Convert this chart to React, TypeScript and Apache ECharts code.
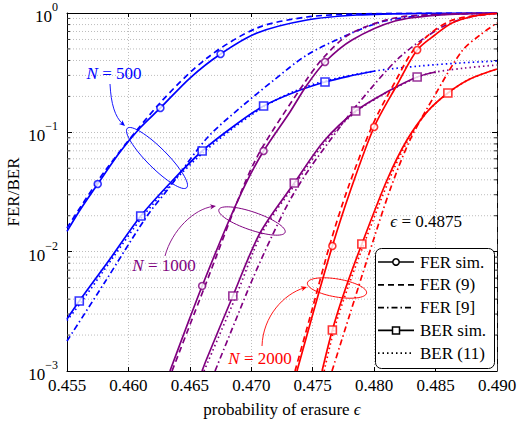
import React, { useEffect, useRef } from 'react';
import * as echarts from 'echarts';

// ---------- axes ----------
const xMin = 0.455;
const xMax = 0.49;
const xStep = 0.005;
const yMin = 0.001;
const yMax = 1;
const minorYValues = [
  0.002, 0.003, 0.004, 0.005, 0.006, 0.007, 0.008, 0.009,
  0.02, 0.03, 0.04, 0.05, 0.06, 0.07, 0.08, 0.09,
  0.2, 0.3, 0.4, 0.5, 0.6, 0.7, 0.8, 0.9,
];
const epsilonMark = 0.4875;

// ---------- N = 500 (blue) ----------
const n500FerSim: number[][] = [
  [0.455, 0.0148], [0.45606, 0.02234], [0.4575, 0.0369], [0.45931, 0.06843], [0.46094, 0.1087],
  [0.4626, 0.16], [0.46501, 0.2852], [0.4675, 0.4533], [0.47047, 0.6801], [0.47453, 0.8737],
  [0.4786, 0.9621], [0.48373, 0.9942], [0.49, 0.999],
];
const n500FerSimMarks = [2, 5, 7];
const n500FerEq9: number[][] = [
  [0.455, 0.01579], [0.45809, 0.04743], [0.46257, 0.1761], [0.4664, 0.4197], [0.47047, 0.7485],
  [0.47453, 0.9257], [0.4786, 0.9809], [0.48373, 0.996], [0.49, 0.9995],
];
const n500FerRef9: number[][] = [
  [0.455, 0.001783], [0.45809, 0.005567], [0.46151, 0.0199], [0.4633, 0.03416], [0.4664, 0.08965],
  [0.46908, 0.16], [0.47185, 0.2746], [0.47453, 0.4447], [0.4782, 0.6801], [0.48088, 0.857],
  [0.48455, 0.9621], [0.49, 0.994],
];
const n500BerSim: number[][] = [
  [0.455, 0.002727], [0.456, 0.003858], [0.4585, 0.008679], [0.461, 0.0199], [0.46355, 0.03912],
  [0.466, 0.06976], [0.46859, 0.113], [0.471, 0.1662], [0.47356, 0.2178], [0.476, 0.264],
  [0.47803, 0.2965], [0.48007, 0.3266],
];
const n500BerSimMarks = [1, 3, 5, 7, 9];
const n500BerEq11: number[][] = [
  [0.455, 0.00265], [0.45622, 0.003858], [0.45866, 0.008679], [0.46119, 0.0199], [0.46371, 0.03912],
  [0.46623, 0.06976], [0.46876, 0.113], [0.47112, 0.1662], [0.47356, 0.222], [0.476, 0.2693],
  [0.48007, 0.3266], [0.48373, 0.3597], [0.48699, 0.3811], [0.49, 0.3961],
];

// ---------- N = 1000 (purple) ----------
const n1000FerSim: number[][] = [
  [0.46338, 0.001], [0.46469, 0.002293], [0.466, 0.005155], [0.4681, 0.01739], [0.46949, 0.03619],
  [0.471, 0.06976], [0.47315, 0.1481], [0.47453, 0.2492], [0.476, 0.3885], [0.4782, 0.594],
  [0.4817, 0.857], [0.48536, 0.9621], [0.49, 0.997],
];
const n1000FerSimMarks = [2, 5, 8];
const n1000FerEq9: number[][] = [
  [0.46355, 0.001], [0.46623, 0.005155], [0.46941, 0.03619], [0.47087, 0.07389], [0.47437, 0.264],
  [0.47592, 0.4279], [0.47803, 0.6669], [0.4817, 0.9081], [0.48617, 0.9809], [0.49, 0.999],
];
const n1000FerRef9: number[][] = [
  [0.46705, 0.001], [0.46867, 0.002574], [0.47014, 0.006015], [0.47169, 0.01353], [0.47315, 0.02709],
  [0.47478, 0.05025], [0.47722, 0.1108], [0.4786, 0.1694], [0.4821, 0.4279], [0.48552, 0.7632],
  [0.4878, 0.9257], [0.49, 0.99],
];
const n1000BerSim: number[][] = [
  [0.46599, 0.001], [0.4664, 0.001285], [0.4685, 0.00425], [0.47071, 0.01434], [0.4735, 0.03761],
  [0.47592, 0.0846], [0.4785, 0.151], [0.48088, 0.2136], [0.4835, 0.2909], [0.48503, 0.3203],
];
const n1000BerSimMarks = [2, 4, 6, 8];
const n1000BerEq11: number[][] = [
  [0.46615, 0.001], [0.46876, 0.00425], [0.47087, 0.01434], [0.47364, 0.03761], [0.47608, 0.0846],
  [0.4786, 0.151], [0.48096, 0.2136], [0.48357, 0.2909], [0.48503, 0.3203], [0.4874, 0.3459],
  [0.49, 0.3666],
];

// ---------- N = 2000 (red) ----------
const n2000FerSim: number[][] = [
  [0.47372, 0.001], [0.4751, 0.003245], [0.4766, 0.01115], [0.47803, 0.03162], [0.48, 0.1108],
  [0.48186, 0.2492], [0.4835, 0.4898], [0.48495, 0.6543], [0.48634, 0.8245], [0.48821, 0.9437],
  [0.49, 0.9904],
];
const n2000FerSimMarks = [2, 4, 6];
const n2000FerEq9: number[][] = [
  [0.47356, 0.001], [0.47494, 0.003245], [0.47641, 0.0116], [0.47787, 0.03416], [0.47991, 0.1174],
  [0.4817, 0.264], [0.48341, 0.5188], [0.48617, 0.857], [0.49, 0.994],
];
const n2000FerRef9: number[][] = [
  [0.47657, 0.001], [0.47803, 0.003003], [0.47942, 0.008513], [0.48129, 0.03286], [0.48292, 0.08625],
  [0.48495, 0.2055], [0.48715, 0.4803], [0.48862, 0.6543], [0.49, 0.8245],
];
const n2000BerSim: number[][] = [
  [0.47576, 0.001], [0.4766, 0.002206], [0.47763, 0.004773], [0.479, 0.0116], [0.48105, 0.03985],
  [0.48267, 0.08625], [0.4843, 0.1481], [0.486, 0.2136], [0.4878, 0.2798], [0.49, 0.3395],
];
const n2000BerSimMarks = [1, 3, 7];
const n2000BerEq11: number[][] = [
  [0.47593, 0.001], [0.47673, 0.002206], [0.47779, 0.004773], [0.47917, 0.0116], [0.48121, 0.03985],
  [0.48276, 0.08625], [0.4843, 0.1481], [0.48601, 0.2136], [0.4878, 0.2798], [0.49, 0.3395],
];

const legendLabels = ['FER sim.', 'FER (9)', 'FER [9]', 'BER sim.', 'BER (11)'];

// ---------- styles ----------
const BLUE = '#0000ff';
const PURPLE = '#800080';
const RED = '#ff0000';
const FONT = 'Liberation Serif, DejaVu Serif, serif';
const LW = 1.7;
const DASHED = [6, 4];
const DASHDOT = [6, 3, 1.5, 3];
const DOTTED = [1.5, 3];

function lineSeries(data: number[][], color: string, dash: any) {
  return {
    type: 'line',
    data,
    symbol: 'none',
    smooth: 0.3,
    clip: true,
    silent: true,
    z: 3,
    lineStyle: { color, width: LW, type: dash },
  };
}

function markerSeries(data: number[][], idx: number[], color: string, symbol: string) {
  return {
    type: 'scatter',
    data: idx.map((i) => data[i]),
    symbol,
    symbolSize: symbol === 'rect' ? 8 : 7,
    silent: true,
    z: 4,
    itemStyle: { color: '#fff', borderColor: color, borderWidth: 1.6 },
  };
}

function arrow(x1: number, y1: number, c1x: number, c1y: number, c2x: number, c2y: number, x2: number, y2: number, color: string) {
  const dx = x2 - c2x;
  const dy = y2 - c2y;
  const len = Math.sqrt(dx * dx + dy * dy) || 1;
  const ux = dx / len;
  const uy = dy / len;
  const L = 6;
  const W = 2.6;
  return [
    {
      type: 'bezierCurve',
      shape: { x1, y1, cpx1: c1x, cpy1: c1y, cpx2: c2x, cpy2: c2y, x2: x2 - ux * 3, y2: y2 - uy * 3 },
      style: { stroke: color, lineWidth: 0.9, fill: 'none' },
      z: 20,
    },
    {
      type: 'polygon',
      shape: {
        points: [
          [x2, y2],
          [x2 - ux * L - uy * W, y2 - uy * L + ux * W],
          [x2 - ux * L * 0.7, y2 - uy * L * 0.7],
          [x2 - ux * L + uy * W, y2 - uy * L - ux * W],
        ],
      },
      style: { fill: color, stroke: 'none' },
      z: 20,
    },
  ];
}

function ellipse(cx: number, cy: number, rx: number, ry: number, rot: number, color: string) {
  return {
    type: 'ellipse',
    x: cx,
    y: cy,
    rotation: rot,
    shape: { cx: 0, cy: 0, rx, ry },
    style: { fill: 'none', stroke: color, lineWidth: 0.9 },
    z: 20,
  };
}

function nLabel(x: number, y: number, n: string, color: string) {
  return {
    type: 'text',
    x,
    y,
    z: 20,
    style: {
      text: '{i|N} = ' + n,
      fill: color,
      fontSize: 17,
      fontFamily: FONT,
      align: 'center',
      verticalAlign: 'middle',
      rich: {
        i: { fontStyle: 'italic', fill: color, fontSize: 17, fontFamily: FONT },
      },
    },
  };
}

function buildLegend() {
  const children: any[] = [];
  const left = 375.5;
  const top = 248.5;
  children.push({
    type: 'rect',
    shape: { x: left, y: top, width: 119, height: 120, r: 6 },
    style: { fill: '#fff', stroke: '#000', lineWidth: 1 },
    z: 30,
  });
  const dashes: any[] = [null, DASHED, DASHDOT, null, DOTTED];
  legendLabels.forEach((label, i) => {
    const y = 262 + i * 22.8;
    children.push({
      type: 'line',
      shape: { x1: 378, y1: y, x2: 414, y2: y },
      style: { stroke: '#000', lineWidth: LW, lineDash: dashes[i] || null },
      z: 31,
    });
    if (i === 0) {
      children.push({
        type: 'circle',
        shape: { cx: 396, cy: y, r: 3.2 },
        style: { fill: '#fff', stroke: '#000', lineWidth: 1.5 },
        z: 32,
      });
    }
    if (i === 3) {
      children.push({
        type: 'rect',
        shape: { x: 392.5, y: y - 3.5, width: 7, height: 7 },
        style: { fill: '#fff', stroke: '#000', lineWidth: 1.5 },
        z: 32,
      });
    }
    children.push({
      type: 'text',
      x: 420,
      y,
      z: 32,
      style: { text: label, fill: '#000', fontSize: 17, fontFamily: FONT, align: 'left', verticalAlign: 'middle' },
    });
  });
  return children;
}

export default function App() {
  const ref = useRef<HTMLDivElement>(null);
  useEffect(() => {
    if (!ref.current) return;
    const chart = echarts.init(ref.current, undefined, { renderer: 'svg' });
    const axisLineStyle = { show: true, lineStyle: { color: '#000', width: 1 } };
    const gridLine = { show: true, lineStyle: { color: '#bdbdbd', width: 1, type: [1, 2] } };

    const series: any[] = [
      {
        type: 'custom',
        silent: true,
        z: 1,
        data: minorYValues.map((v) => [xMin, v]),
        encode: { x: 0, y: 1 },
        renderItem: (params: any, api: any) => {
          const v = api.value(1);
          const a = api.coord([xMin, v]);
          const b = api.coord([xMax, v]);
          return {
            type: 'group',
            children: [
              { type: 'line', shape: { x1: a[0], y1: a[1], x2: b[0], y2: b[1] }, style: { stroke: '#bdbdbd', lineWidth: 1, lineDash: [1, 2] } },
              { type: 'line', shape: { x1: a[0], y1: a[1], x2: a[0] + 3, y2: a[1] }, style: { stroke: '#000', lineWidth: 0.8 } },
              { type: 'line', shape: { x1: b[0] - 3, y1: b[1], x2: b[0], y2: b[1] }, style: { stroke: '#000', lineWidth: 0.8 } },
            ],
          };
        },
        markLine: {
          silent: true,
          symbol: ['none', 'none'],
          label: { show: false },
          lineStyle: { color: '#333', width: 1, type: [7, 5] },
          data: [{ xAxis: epsilonMark }],
        },
      },
      // blue
      lineSeries(n500FerRef9, BLUE, DASHDOT),
      lineSeries(n500BerEq11, BLUE, DOTTED),
      lineSeries(n500FerEq9, BLUE, DASHED),
      lineSeries(n500FerSim, BLUE, 'solid'),
      lineSeries(n500BerSim, BLUE, 'solid'),
      // purple
      lineSeries(n1000FerRef9, PURPLE, DASHDOT),
      lineSeries(n1000BerEq11, PURPLE, DOTTED),
      lineSeries(n1000FerEq9, PURPLE, DASHED),
      lineSeries(n1000FerSim, PURPLE, 'solid'),
      lineSeries(n1000BerSim, PURPLE, 'solid'),
      // red
      lineSeries(n2000FerRef9, RED, DASHDOT),
      lineSeries(n2000BerEq11, RED, DOTTED),
      lineSeries(n2000FerEq9, RED, DASHED),
      lineSeries(n2000FerSim, RED, 'solid'),
      lineSeries(n2000BerSim, RED, 'solid'),
      markerSeries(n500FerSim, n500FerSimMarks, BLUE, 'circle'),
      markerSeries(n500BerSim, n500BerSimMarks, BLUE, 'rect'),
      markerSeries(n1000FerSim, n1000FerSimMarks, PURPLE, 'circle'),
      markerSeries(n1000BerSim, n1000BerSimMarks, PURPLE, 'rect'),
      markerSeries(n2000FerSim, n2000FerSimMarks, RED, 'circle'),
      markerSeries(n2000BerSim, n2000BerSimMarks, RED, 'rect'),
    ];

    const graphic: any[] = [
      {
        type: 'text',
        x: 282,
        y: 409,
        style: {
          text: 'probability of erasure {i|ϵ}',
          fill: '#000',
          fontSize: 17,
          fontFamily: FONT,
          align: 'center',
          verticalAlign: 'middle',
          rich: { i: { fontStyle: 'italic', fontSize: 17, fontFamily: FONT, fill: '#000' } },
        },
      },
      {
        type: 'text',
        x: 13,
        y: 192,
        rotation: Math.PI / 2,
        style: { text: 'FER/BER', fill: '#000', fontSize: 17, fontFamily: FONT, align: 'center', verticalAlign: 'middle' },
      },
      {
        type: 'text',
        x: 462,
        y: 221,
        z: 20,
        style: {
          text: '{i|ϵ} = 0.4875',
          fill: '#000',
          fontSize: 17,
          fontFamily: FONT,
          align: 'right',
          verticalAlign: 'middle',
          rich: { i: { fontStyle: 'italic', fontSize: 17, fontFamily: FONT, fill: '#000' } },
        },
      },
      nLabel(114, 73, '500', BLUE),
      nLabel(164, 265, '1000', PURPLE),
      nLabel(260, 358, '2000', RED),
      ...arrow(110, 84, 111, 104, 115, 117, 125, 126, BLUE),
      ...arrow(165, 256, 172, 230, 194, 209, 216, 206, PURPLE),
      ...arrow(262, 346, 263, 316, 284, 294, 307, 287, RED),
      ellipse(157, 158, 42, 10, -Math.PI / 4, BLUE),
      ellipse(252, 221, 35, 9, -0.33, PURPLE),
      ellipse(337, 288, 30, 9, -0.17, RED),
      ...buildLegend(),
    ];

    const yLabelRich = {
      b: { fontSize: 17, fontFamily: FONT, color: '#000', verticalAlign: 'bottom' },
      s: { fontSize: 12, fontFamily: FONT, color: '#000', verticalAlign: 'top', padding: [0, 0, 12, 0] },
    };

    chart.setOption({
      animation: false,
      backgroundColor: '#fff',
      grid: { left: 67, top: 13, right: 28, bottom: 55, containLabel: false },
      xAxis: [
        {
          type: 'value',
          min: xMin,
          max: xMax,
          interval: xStep,
          axisLine: axisLineStyle,
          axisTick: { show: true, inside: true, length: 4, lineStyle: { color: '#000' } },
          splitLine: gridLine,
          axisLabel: {
            color: '#000',
            fontSize: 17,
            fontFamily: FONT,
            margin: 6,
            formatter: (v: number) => v.toFixed(3),
          },
        },
        {
          type: 'value',
          position: 'top',
          min: xMin,
          max: xMax,
          interval: xStep,
          axisLine: axisLineStyle,
          axisTick: { show: true, inside: true, length: 4, lineStyle: { color: '#000' } },
          splitLine: { show: false },
          axisLabel: { show: false },
        },
      ],
      yAxis: [
        {
          type: 'log',
          logBase: 10,
          min: yMin,
          max: yMax,
          axisLine: axisLineStyle,
          axisTick: { show: true, inside: true, length: 5, lineStyle: { color: '#000' } },
          splitLine: gridLine,
          minorTick: { show: false },
          axisLabel: {
            margin: 9,
            fontFamily: FONT,
            formatter: (v: number) => {
              const e = Math.round(Math.log10(v));
              return '{b|10}{s|' + (e < 0 ? '\u2212' : '') + Math.abs(e) + '}';
            },
            rich: yLabelRich,
          },
        },
        {
          type: 'log',
          logBase: 10,
          position: 'right',
          min: yMin,
          max: yMax,
          axisLine: axisLineStyle,
          axisTick: { show: true, inside: true, length: 5, lineStyle: { color: '#000' } },
          splitLine: { show: false },
          axisLabel: { show: false },
        },
      ],
      series,
      graphic,
    });
    return () => chart.dispose();
  }, []);
  return <div ref={ref} style={{ position: 'fixed', left: 0, top: 0, width: 525, height: 426, background: '#fff' }} />;
}
